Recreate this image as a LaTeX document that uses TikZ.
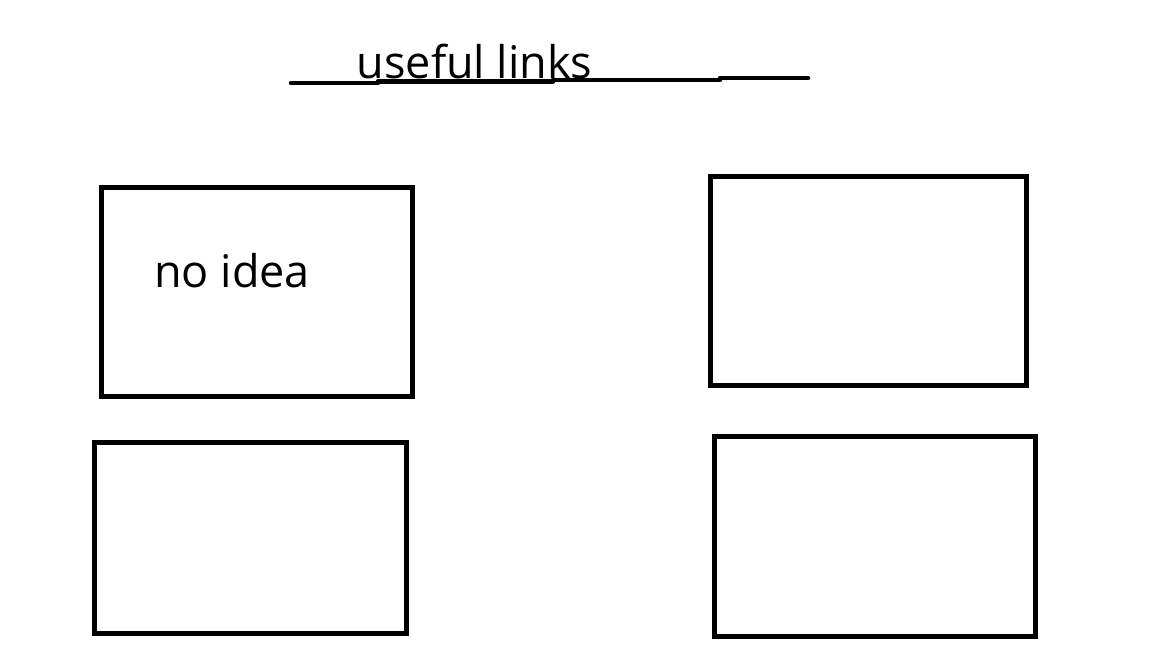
\documentclass[tikz,border=0pt]{standalone}
\usepackage{fontspec}
\setmainfont{Open Sans}
\usepackage{tikz}

\begin{document}
\begin{tikzpicture}[x=1pt,y=-1pt,
  linkbox/.style={draw=black,line width=5pt,inner sep=0pt,rectangle},
  label/.style={inner sep=0pt,anchor=base west,font=\fontsize{45}{52}\selectfont},
  rule/.style={black,line width=4.5pt,line cap=round}]
\useasboundingbox (0,0) rectangle (1152,648);
% title and its underline
\node [label] (title) at (356.5,78) {useful links};
\draw [rule] (291,83) -- (378,83);
\draw [rule] (378,81.5) -- (553,81.5);
\draw [rule] (553,80) -- (720,80);
\draw [rule] (720,78) -- (808,78);
% link boxes
\node [linkbox,minimum width=310.3pt,minimum height=209pt] (boxA) at (256.85,292) {};
\node [linkbox,minimum width=316.5pt,minimum height=209pt] (boxB) at (868.25,281) {};
\node [linkbox,minimum width=312.5pt,minimum height=191.2pt] (boxC) at (250.25,537.9) {};
\node [linkbox,minimum width=321pt,minimum height=200pt] (boxD) at (875,536.5) {};
\node [label] (idea) at (154,287) {no idea};
\end{tikzpicture}
\end{document}
